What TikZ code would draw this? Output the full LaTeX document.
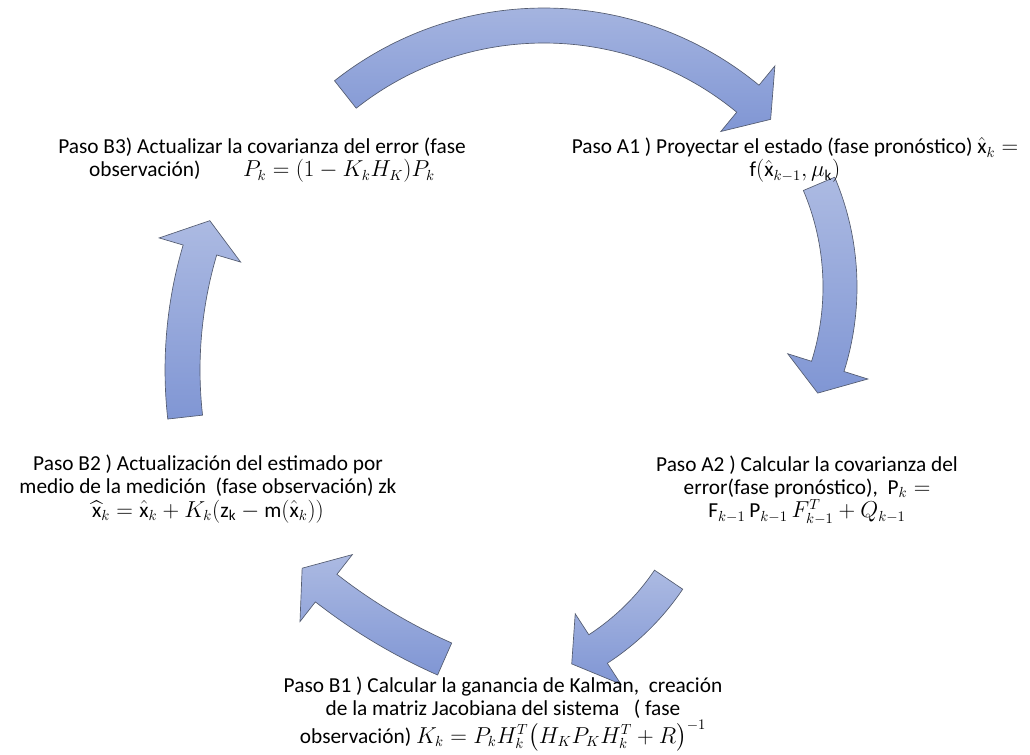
\documentclass[tikz,border=0pt]{standalone}
\usepackage{fontspec}
\setmainfont{Carlito}
\usepackage{amsmath}

\definecolor{arrowtop}{RGB}{172,186,226}
\definecolor{arrowbot}{RGB}{128,150,212}
\definecolor{arrowline}{RGB}{84,92,112}

\tikzset{
  cyclearrow/.style={draw=arrowline, line width=0.5pt, top color=arrowtop, bottom color=arrowbot},
  steptext/.style={align=center, font=\fontsize{16}{17.5}\selectfont, inner sep=0pt}
}

% curved block arrow: centre, inner radius, outer radius, tail angle, head angle, tip angle
\newcommand{\blockarrow}[6]{%
  \begin{scope}[shift={(#1)}]
    \pgfmathsetmacro{\rmid}{(#2+#3)/2}
    \pgfmathsetmacro{\rwin}{#2-25}
    \pgfmathsetmacro{\rwout}{#3+25}
    \draw[cyclearrow] (#4:#2) arc[start angle=#4, end angle=#5, radius=#2]
      -- (#5:\rwin) -- (#6:\rmid) -- (#5:\rwout) -- (#5:#3)
      arc[start angle=#5, end angle=#4, radius=#3] -- cycle;
  \end{scope}}

\begin{document}
\begin{tikzpicture}[x=0.75pt, y=-0.75pt]

    \useasboundingbox (0,0) rectangle (1030,755);

    % Arrows
    \blockarrow{544,346}{303}{338}{-128.3}{-50.5}{-45}
    \blockarrow{576,287}{247}{281}{-23}{17.5}{23.7}
    \blockarrow{463,441}{231}{265}{34}{57}{64}
    \blockarrow{670,148}{541}{576}{113.8}{128}{131.2}
    \blockarrow{605,370}{405}{440}{173.6}{196.5}{200.7}

    % Steps
    \node[steptext] (b3) at (262,160) {Paso B3) Actualizar la covarianza del error (fase\\
        observación)\qquad $P_k = (1 - K_k H_K)P_k$};
    \node[steptext] (a1) at (795,160) {Paso A1 ) Proyectar el estado (fase pronóstico) $\hat{\mathrm{x}}_k =$\\
        $\mathrm{f}(\hat{\mathrm{x}}_{k-1}, \mu_{\mathrm{k}})$};
    \node[steptext] (b2) at (208,489) {Paso B2 ) Actualización del estimado por\\
        medio de la medición\ \ (fase observación) zk\\
        $\widehat{\mathrm{x}}_k = \hat{\mathrm{x}}_k + K_k(\mathrm{z}_{\mathrm{k}} - \mathrm{m}(\hat{\mathrm{x}}_k))$};
    \node[steptext] (a2) at (807,490) {Paso A2 ) Calcular la covarianza del\\
        error(fase pronóstico),\ \ $\mathrm{P}_k =$\\
        $\mathrm{F}_{k-1}\,\mathrm{P}_{k-1}\,F_{k-1}^T + Q_{k-1}$};
    \node[steptext] (b1) at (503,714) {Paso B1 ) Calcular la ganancia de Kalman,\ \ creación\\
        de la matriz Jacobiana del sistema\ \ \ ( fase\\
        observación) $K_k = P_k H_k^T\bigl(H_K P_K H_k^T + R\bigr)^{-1}$};

\end{tikzpicture}
\end{document}
